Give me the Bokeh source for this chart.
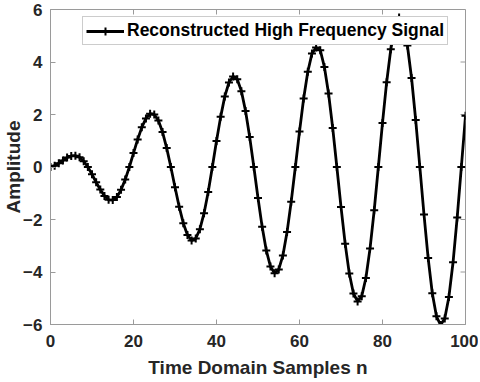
from bokeh.plotting import figure
from bokeh.models import Range1d, FixedTicker, Legend, LegendItem
from bokeh.embed import file_html
from bokeh.resources import INLINE

# ---- data ----
n = list(range(101))
amplitude = [
    0.00, 0.05, 0.14, 0.25, 0.36, 0.42, 0.43, 0.37, 0.22, 0.00,
    -0.28, -0.58, -0.86, -1.10, -1.25, -1.26, -1.14, -0.87, -0.48, 0.00,
    0.53, 1.05, 1.51, 1.85, 2.03, 2.00, 1.77, 1.33, 0.72, 0.00,
    -0.77, -1.51, -2.14, -2.59, -2.80, -2.72, -2.37, -1.76, -0.95, 0.00,
    0.99, 1.91, 2.69, 3.22, 3.45, 3.34, 2.89, 2.13, 1.14, 0.00,
    -1.18, -2.28, -3.18, -3.79, -4.05, -3.90, -3.37, -2.48, -1.32, 0.00,
    1.35, 2.61, 3.63, 4.32, 4.55, 4.45, 3.81, 2.80, 1.49, 0.00,
    -1.52, -2.92, -4.06, -4.82, -5.12, -4.92, -4.23, -3.10, -1.65, 0.00,
    1.68, 3.23, 4.49, 5.32, 5.70, 5.41, 4.63, 3.39, 1.79, 0.00,
    -1.81, -3.47, -4.81, -5.69, -6.02, -5.77, -4.95, -3.63, -1.92, 0.00,
    1.95,
]
x_ticks = [0, 20, 40, 60, 80, 100]
y_ticks = [-6, -4, -2, 0, 2, 4, 6]
x_min, x_max = 0, 100
y_min, y_max = -6, 6
series_label = "Reconstructed High Frequency Signal"
x_label = "Time Domain Samples n"
y_label = "Amplitude"

FONT = "Liberation Sans"
AXIS_GRAY = "#9a9a9a"
TEXT_COLOR = "#262626"

p = figure(
    width=478, height=380,
    x_range=Range1d(x_min, x_max), y_range=Range1d(y_min, y_max),
    output_backend="svg", toolbar_location=None,
    min_border_left=50, min_border_right=13,
    min_border_top=9, min_border_bottom=56,
)
p.grid.visible = False
p.outline_line_color = AXIS_GRAY
p.background_fill_color = "white"
p.border_fill_color = "white"

bottom_axis = p.below[0]
left_axis = p.left[0]
bottom_axis.ticker = FixedTicker(ticks=x_ticks)
left_axis.ticker = FixedTicker(ticks=y_ticks)
bottom_axis.axis_label = x_label
left_axis.axis_label = y_label

for ax in [bottom_axis, left_axis]:
    ax.axis_line_color = AXIS_GRAY
    ax.axis_line_width = 1
    ax.major_tick_line_color = AXIS_GRAY
    ax.major_tick_in = 5
    ax.major_tick_out = 0
    ax.minor_tick_line_color = None
    ax.major_label_text_font = FONT
    ax.major_label_text_font_style = "bold"
    ax.major_label_text_font_size = "17px"
    ax.major_label_text_color = TEXT_COLOR
    ax.axis_label_text_font = FONT
    ax.axis_label_text_font_style = "bold"
    ax.axis_label_text_font_size = "19px"
    ax.axis_label_text_color = TEXT_COLOR

bottom_axis.major_label_standoff = 10
bottom_axis.axis_label_standoff = 7
left_axis.major_label_standoff = 8
left_axis.axis_label_standoff = -4

# tick marks on the top and right edges of the box (inward, like the other axes)
x_tick_len = 1.2   # about 5 px in data units
y_tick_len = 0.19  # about 5 px in data units
p.segment(x0=x_ticks, y0=[y_max] * len(x_ticks), x1=x_ticks,
          y1=[y_max - y_tick_len] * len(x_ticks), line_color=AXIS_GRAY, line_width=1)
p.segment(x0=[x_max] * len(y_ticks), y0=y_ticks, x1=[x_max - x_tick_len] * len(y_ticks),
          y1=y_ticks, line_color=AXIS_GRAY, line_width=1)

r_line = p.line(n, amplitude, line_color="black", line_width=2.8)
r_pts = p.scatter(n, amplitude, marker="cross", size=8,
                  line_color="black", line_width=2)

legend = Legend(
    items=[LegendItem(label=series_label, renderers=[r_line, r_pts])],
    location=(32, 279),
    label_text_font=FONT, label_text_font_style="bold",
    label_text_font_size="17.5px", label_text_color="black",
    border_line_color=AXIS_GRAY, border_line_width=1,
    background_fill_color="white", background_fill_alpha=1.0,
    glyph_width=38, glyph_height=20, label_height=20,
    label_standoff=3, padding=3, margin=0, spacing=0,
)
p.add_layout(legend)

open("out.html", "w").write(file_html(p, INLINE))
